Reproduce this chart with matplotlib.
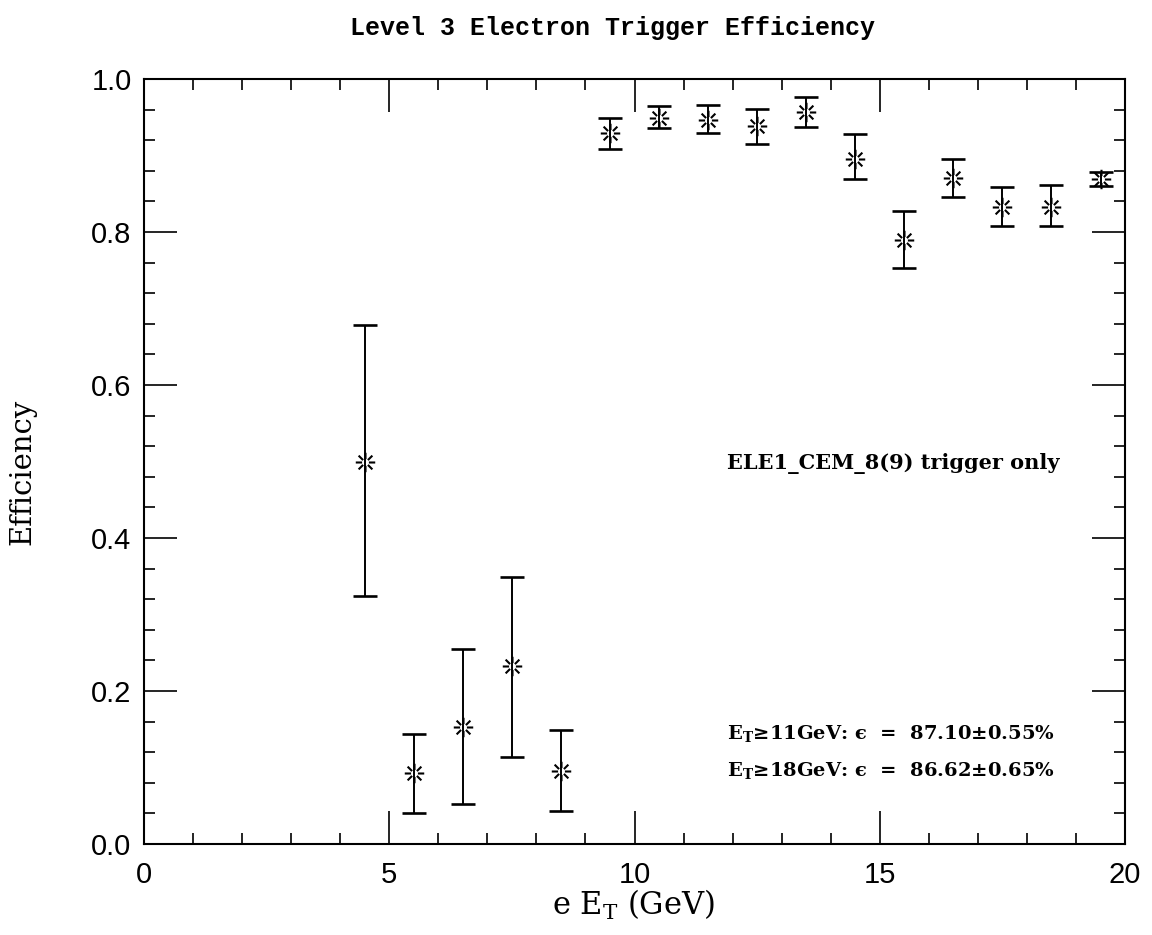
import matplotlib
matplotlib.use("Agg")
import matplotlib.pyplot as plt
from matplotlib.path import Path
from matplotlib.ticker import MultipleLocator
import numpy as np

# bin centres in e E_T (GeV) and measured efficiency with asymmetric errors
et_bins = [4.5, 5.5, 6.5, 7.5, 8.5, 9.5, 10.5, 11.5, 12.5, 13.5,
           14.5, 15.5, 16.5, 17.5, 18.5, 19.5]
eff = [0.500, 0.093, 0.153, 0.233, 0.095, 0.929, 0.949, 0.946, 0.938, 0.957,
       0.896, 0.790, 0.871, 0.833, 0.833, 0.869]
err_up = [0.178, 0.051, 0.102, 0.116, 0.054, 0.020, 0.016, 0.020, 0.023, 0.019,
          0.032, 0.037, 0.025, 0.026, 0.028, 0.009]
err_lo = [0.176, 0.052, 0.101, 0.119, 0.052, 0.020, 0.013, 0.017, 0.023, 0.020,
          0.027, 0.037, 0.025, 0.025, 0.025, 0.009]

title = "Level 3 Electron Trigger Efficiency"
trigger_note = "ELE1_CEM_8(9) trigger only"
result_notes = [r"E$_\mathbf{T}$≥11GeV: ϵ  =  87.10±0.55%",
                r"E$_\mathbf{T}$≥18GeV: ϵ  =  86.62±0.65%"]

plt.rcParams["mathtext.fontset"] = "dejavuserif"

# star-burst marker: 8 short arms with an empty centre
verts, codes = [], []
for ang in np.arange(0, 360, 45):
    a = np.deg2rad(ang)
    verts += [(0.35 * np.cos(a), 0.35 * np.sin(a)), (np.cos(a), np.sin(a))]
    codes += [Path.MOVETO, Path.LINETO]
star = Path(verts, codes)

fig = plt.figure(figsize=(11.52, 9.35), dpi=100)
ax = fig.add_axes([0.125, 0.0973, 0.8516, 0.8182])

ax.errorbar(et_bins, eff, yerr=[err_lo, err_up], fmt="none", ecolor="black",
            elinewidth=1.4, capsize=8.5, capthick=1.9)
ax.plot(et_bins, eff, linestyle="none", marker=star, markersize=14,
        markeredgecolor="black", markeredgewidth=1.5, color="black")

ax.set_xlim(0, 20)
ax.set_ylim(0, 1)
ax.xaxis.set_major_locator(MultipleLocator(5))
ax.xaxis.set_minor_locator(MultipleLocator(1))
ax.yaxis.set_major_locator(MultipleLocator(0.2))
ax.yaxis.set_minor_locator(MultipleLocator(0.04))
ax.set_yticks(ax.get_yticks())
ax.set_yticklabels(["%.1f" % v for v in ax.get_yticks()])
ax.set_ylim(0, 1)

ax.tick_params(which="both", direction="in", top=True, right=True,
               width=1.2, labelsize=21)
ax.tick_params(which="major", length=23.5)
ax.tick_params(which="minor", length=8)
ax.tick_params(axis="x", pad=12)
ax.tick_params(axis="y", pad=9)
for lab in ax.get_xticklabels() + ax.get_yticklabels():
    lab.set_family("Liberation Sans")
for sp in ax.spines.values():
    sp.set_linewidth(1.5)

fig.text(612 / 1152, 1 - 28 / 935, title, ha="center", va="center",
         family="Liberation Mono", fontweight="bold", fontsize=18)
fig.text(22 / 1152, 1 - 472 / 935, "Efficiency", rotation=90, ha="center",
         va="center", family="DejaVu Serif", fontsize=21)
fig.text(633 / 1152, 1 - 905 / 935, r"e E$_\mathrm{T}$ (GeV)", ha="center",
         va="center", family="DejaVu Serif", fontsize=22)

ax.text(11.89, 0.498, trigger_note, ha="left", va="center",
        family="DejaVu Serif", fontweight="bold", fontsize=15)
ax.text(11.89, 0.145, result_notes[0], ha="left", va="center",
        family="DejaVu Serif", fontweight="bold", fontsize=14)
ax.text(11.89, 0.0967, result_notes[1], ha="left", va="center",
        family="DejaVu Serif", fontweight="bold", fontsize=14)

fig.savefig("out.png", dpi=100)
